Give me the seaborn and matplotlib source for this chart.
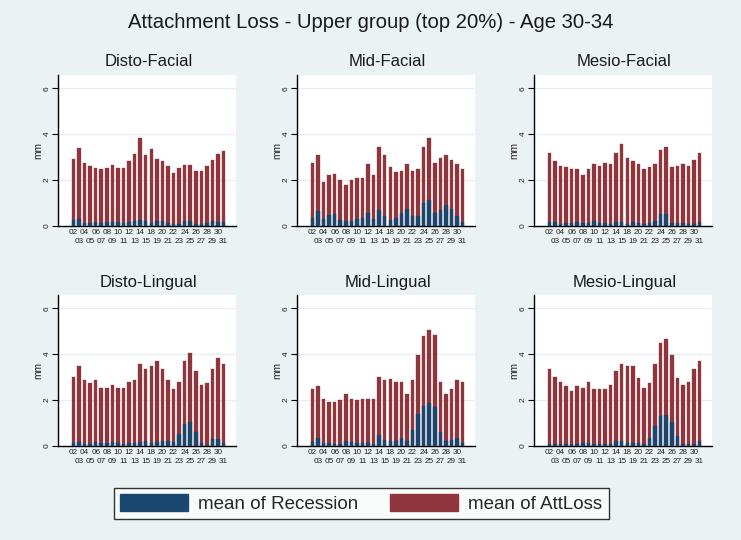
import numpy as np
import pandas as pd
import matplotlib
matplotlib.use("Agg")
import matplotlib.pyplot as plt
from matplotlib.patches import Patch
import seaborn as sns

# ---------------- data ----------------
teeth = ["02", "03", "04", "05", "06", "07", "08", "09", "10", "11", "12", "13", "14", "15",
         "18", "19", "20", "21", "22", "23", "24", "25", "26", "27", "28", "29", "30", "31"]

panel_titles = ["Disto-Facial", "Mid-Facial", "Mesio-Facial",
                "Disto-Lingual", "Mid-Lingual", "Mesio-Lingual"]

df_att = [2.93, 3.41, 2.74, 2.59, 2.54, 2.46, 2.54, 2.67, 2.54, 2.54, 2.81, 3.14, 3.83, 3.07,
          3.35, 2.93, 2.81, 2.59, 2.28, 2.54, 2.67, 2.67, 2.39, 2.39, 2.59, 2.88, 3.14, 3.28]
df_rec = [0.25, 0.28, 0.10, 0.10, 0.16, 0.13, 0.15, 0.16, 0.15, 0.10, 0.15, 0.22, 0.26, 0.20,
          0.10, 0.20, 0.20, 0.10, 0.06, 0.07, 0.20, 0.20, 0.07, 0.07, 0.13, 0.22, 0.15, 0.15]

mf_att = [2.73, 3.07, 1.92, 2.20, 2.27, 1.99, 1.77, 1.99, 2.07, 2.07, 2.68, 2.20, 3.42, 3.07,
          2.55, 2.34, 2.40, 2.68, 2.41, 2.47, 3.42, 3.83, 2.73, 2.95, 3.08, 2.88, 2.68, 2.47]
mf_rec = [0.32, 0.64, 0.29, 0.45, 0.49, 0.25, 0.20, 0.20, 0.29, 0.35, 0.54, 0.29, 0.70, 0.44,
          0.23, 0.35, 0.54, 0.71, 0.44, 0.44, 0.97, 1.12, 0.57, 0.70, 0.90, 0.71, 0.44, 0.17]

mesf_att = [3.16, 2.83, 2.61, 2.55, 2.48, 2.46, 2.20, 2.48, 2.68, 2.61, 2.72, 2.68, 3.16, 3.57,
            2.94, 2.83, 2.68, 2.48, 2.55, 2.68, 3.30, 3.42, 2.55, 2.61, 2.68, 2.61, 2.87, 3.16]
mesf_rec = [0.15, 0.15, 0.08, 0.10, 0.12, 0.15, 0.10, 0.10, 0.20, 0.10, 0.12, 0.08, 0.15, 0.15,
            0.08, 0.15, 0.12, 0.08, 0.12, 0.20, 0.50, 0.50, 0.12, 0.12, 0.12, 0.08, 0.08, 0.15]

dl_att = [2.99, 3.49, 2.88, 2.73, 2.88, 2.51, 2.51, 2.66, 2.51, 2.51, 2.80, 2.88, 3.56, 3.34,
          3.49, 3.68, 3.34, 2.88, 2.47, 2.80, 3.68, 4.04, 3.28, 2.66, 2.73, 3.34, 3.82, 3.56]
dl_rec = [0.12, 0.14, 0.08, 0.08, 0.14, 0.10, 0.12, 0.14, 0.10, 0.06, 0.10, 0.10, 0.14, 0.20,
          0.10, 0.14, 0.22, 0.20, 0.15, 0.50, 0.95, 1.02, 0.60, 0.12, 0.05, 0.28, 0.28, 0.12]

ml_att = [2.46, 2.59, 2.04, 1.91, 1.91, 1.98, 2.25, 2.04, 1.98, 2.04, 2.04, 2.04, 3.00, 2.87,
          2.92, 2.79, 2.79, 2.25, 2.87, 3.96, 4.79, 5.05, 4.84, 2.79, 2.25, 2.46, 2.87, 2.79]
ml_rec = [0.17, 0.32, 0.13, 0.10, 0.09, 0.07, 0.19, 0.15, 0.10, 0.12, 0.10, 0.09, 0.47, 0.25,
          0.22, 0.20, 0.32, 0.19, 0.68, 1.37, 1.73, 1.85, 1.70, 0.61, 0.19, 0.25, 0.35, 0.13]

mesl_att = [3.33, 2.98, 2.79, 2.59, 2.39, 2.59, 2.52, 2.79, 2.46, 2.46, 2.46, 2.66, 3.27, 3.55,
            3.48, 3.48, 2.94, 2.52, 2.73, 3.55, 4.49, 4.64, 3.96, 2.94, 2.66, 2.79, 3.33, 3.68]
mesl_rec = [0.07, 0.07, 0.07, 0.09, 0.07, 0.09, 0.12, 0.13, 0.09, 0.09, 0.09, 0.07, 0.19, 0.20,
            0.10, 0.12, 0.12, 0.09, 0.35, 0.86, 1.30, 1.35, 1.03, 0.42, 0.07, 0.07, 0.09, 0.22]

att_series = [df_att, mf_att, mesf_att, dl_att, ml_att, mesl_att]
rec_series = [df_rec, mf_rec, mesf_rec, dl_rec, ml_rec, mesl_rec]

title = "Attachment Loss - Upper group (top 20%) - Age 30-34"
legend_labels = ["mean of Recession", "mean of AttLoss"]
y_ticks = [0, 2, 4, 6]

# ---------------- style ----------------
BG = "#EAF2F3"
NAVY = "#1A476F"
MAROON = "#90353B"
GRID = "#E6EEF0"

sns.set_style("white")
plt.rcParams["font.family"] = ["Liberation Sans", "DejaVu Sans"]

W, H = 741, 540
fig = plt.figure(figsize=(W / 100, H / 100), dpi=100)
fig.patch.set_facecolor(BG)

def px_axes(left, top, width, height):
    return fig.add_axes([left / W, 1 - (top + height) / H, width / W, height / H])

col_left = [58, 297, 534]
row_top = [75, 295]
ax_w, ax_h = 178, 150.7

fig.text(0.5, 1 - 22 / H, title, ha="center", va="center", fontsize=14.6, color="#1a1a1a")

even_idx = list(range(0, len(teeth), 2))
odd_idx = list(range(1, len(teeth), 2))

for i in range(6):
    r, c = divmod(i, 3)
    ax = px_axes(col_left[c], row_top[r], ax_w, ax_h)
    ax.set_facecolor("white")
    for yv in y_ticks[1:]:
        ax.axhline(yv, color=GRID, lw=0.9, zorder=0)
    data = pd.DataFrame({"tooth": teeth, "AttLoss": att_series[i], "Recession": rec_series[i]})
    sns.barplot(data=data, x="tooth", y="AttLoss", order=teeth, color=MAROON, saturation=1,
                width=0.63, errorbar=None, ax=ax, zorder=2,
                edgecolor=MAROON, linewidth=0.25)
    sns.barplot(data=data, x="tooth", y="Recession", order=teeth, color=NAVY, saturation=1,
                width=0.63, errorbar=None, ax=ax, zorder=3,
                edgecolor=NAVY, linewidth=0.25)
    ax.set_xlim(-2.78, 29.24)
    ax.set_ylim(0, 6.58)
    # two staggered rows of tooth labels
    ax.set_xticks(even_idx)
    ax.set_xticklabels([teeth[k] for k in even_idx], fontsize=5.9, color="#222222")
    ax.set_xticks(odd_idx, minor=True)
    ax.set_xticklabels([teeth[k] for k in odd_idx], minor=True, fontsize=5.9, color="#222222")
    ax.tick_params(axis="x", which="major", length=0, pad=2.5)
    ax.tick_params(axis="x", which="minor", length=0, pad=9.0)
    ax.set_yticks(y_ticks)
    ax.set_yticklabels([str(v) for v in y_ticks], rotation=90, va="center",
                       fontsize=6, color="#222222")
    ax.tick_params(axis="y", length=4, width=0.8, color="black", pad=1, left=True)
    ax.set_xlabel("")
    ax.set_ylabel("mm", fontsize=7.3, color="#222222", labelpad=0.5)
    for s in ["top", "right"]:
        ax.spines[s].set_visible(False)
    for s in ["left", "bottom"]:
        ax.spines[s].set_visible(True)
        ax.spines[s].set_color("black")
        ax.spines[s].set_linewidth(1.0)
    ax.grid(False)
    cx = (col_left[c] + ax_w / 2 + 1.5) / W
    ty = 1 - (row_top[r] - 13) / H
    fig.text(cx, ty, panel_titles[i], ha="center", va="center", fontsize=12, color="#1a1a1a")

handles = [Patch(facecolor=NAVY, edgecolor=NAVY), Patch(facecolor=MAROON, edgecolor=MAROON)]
leg = fig.legend(handles, legend_labels, loc="center", ncol=2,
                 bbox_to_anchor=((114 + 608) / 2 / W, 1 - 503.5 / H),
                 fontsize=13.5, frameon=True, fancybox=False, handlelength=3.6,
                 handleheight=1.0, handletextpad=0.55, columnspacing=1.7,
                 borderpad=0.35, borderaxespad=0)
leg.get_frame().set_edgecolor("black")
leg.get_frame().set_linewidth(1.0)
leg.get_frame().set_facecolor("white")

fig.savefig("out.png", dpi=100, facecolor=BG)
